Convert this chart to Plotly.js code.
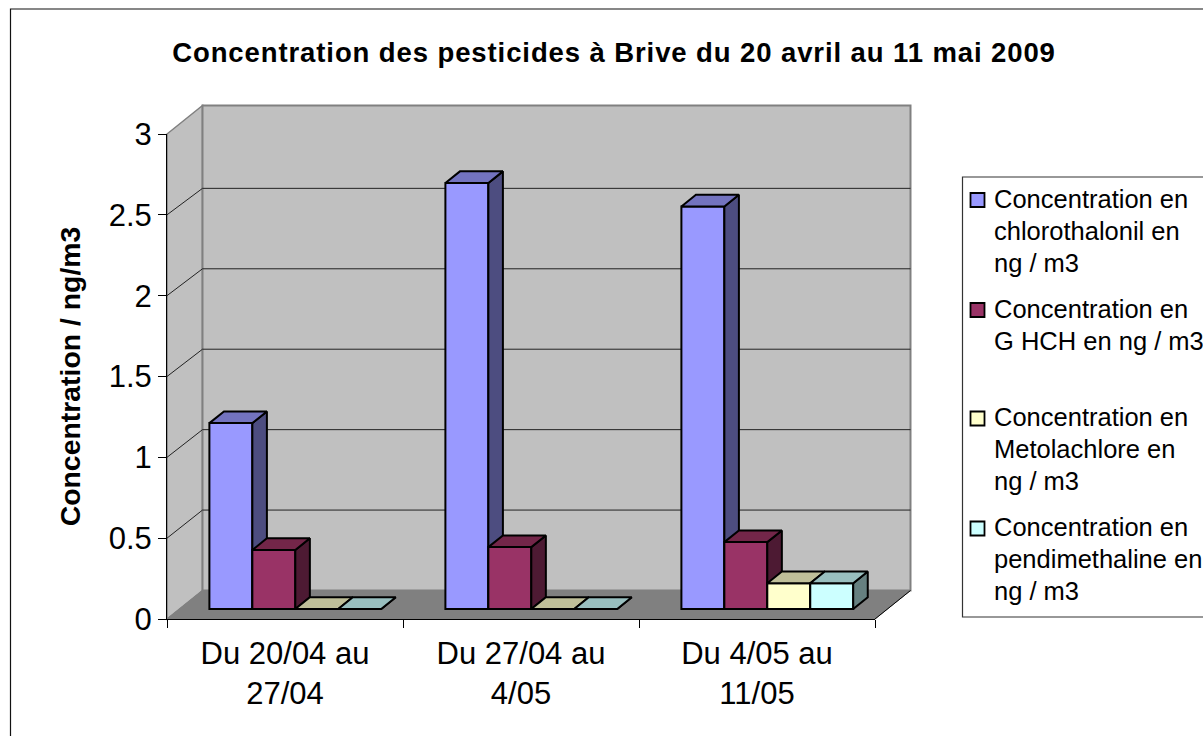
<!DOCTYPE html>
<html>
<head>
<meta charset="utf-8">
<script src="https://cdn.plot.ly/plotly-3.0.1.min.js"></script>
<style>
html,body{margin:0;padding:0;background:#fff;overflow:hidden}
.gtitle{letter-spacing:0.9px}
</style>
</head>
<body>
<div id="chart" style="width:1203px;height:736px"></div>
<script>
// ---- data ----
const categories = ["Du 20/04 au<br>27/04", "Du 27/04 au<br>4/05", "Du 4/05 au<br>11/05"];
const chlorothalonil = [1.15, 2.635, 2.49];
const gHCH = [0.365, 0.383, 0.414];
const metolachlore = [0, 0, 0.16];
const pendimethaline = [0, 0, 0.16];
const yTicks = [0, 0.5, 1, 1.5, 2, 2.5, 3];
const legendLines = [
  ["Concentration en", "chlorothalonil en", "ng / m3"],
  ["Concentration en", "G HCH en ng / m3"],
  ["Concentration en", "Metolachlore en", "ng / m3"],
  ["Concentration en", "pendimethaline en", "ng / m3"]
];
const seriesNames = ["Concentration en chlorothalonil en ng / m3", "Concentration en G HCH en ng / m3",
  "Concentration en Metolachlore en ng / m3", "Concentration en pendimethaline en ng / m3"];
const frontColors = ["#9999ff", "#993366", "#ffffcc", "#ccffff"];
const sideColors = ["#4d4d80", "#4d1a33", "#808066", "#668080"];
const topColors = ["#7373bf", "#732649", "#bfbf99", "#99bfbf"];

// ---- layout constants (pixels of the page) ----
const L = 167, R = 875, T = 134, B = 619, W = 1203, H = 736;
const px = x => (x - L) / (R - L);
const py = y => (B - y) / (B - T);
const wallDX = 35.5, wallDY = 28.5;               // oblique depth of the box
const depthX = wallDX / ((R - L) / 3), depthY = wallDY / ((B - T) / 3); // same in data units
const z0 = 0.35, z1 = 0.76;                       // bar depth inside the box
const barW = 0.182, groupOffset = 0.127;
const wallScale = 0.995;                          // back-wall gridlines sit slightly tighter

const series = [chlorothalonil, gHCH, metolachlore, pendimethaline];
const traces = [];
series.forEach((vals, s) => {
  const ax = s === 0 ? "" : String(s + 1);
  const xa = "x" + ax, ya = "y" + ax;
  const lefts = vals.map((v, c) => c + groupOffset + s * barW + z0 * depthX);
  const baseY = z0 * depthY;
  traces.push({
    type: "bar", name: seriesNames[s], xaxis: xa, yaxis: ya, hoverinfo: "skip",
    x: lefts.map(l => l + barW / 2), y: vals, base: vals.map(() => baseY), width: barW,
    marker: {color: frontColors[s], line: {color: "#000", width: 2}}
  });
  const dzx = (z1 - z0) * depthX, dzy = (z1 - z0) * depthY;
  const sx = [], sy = [], tx = [], ty = [];
  vals.forEach((v, c) => {
    const l = lefts[c], r = l + barW, top = baseY + v;
    sx.push(r, r + dzx, r + dzx, r, r, null);
    sy.push(baseY, baseY + dzy, top + dzy, top, baseY, null);
    tx.push(l, l + dzx, r + dzx, r, l, null);
    ty.push(top, top + dzy, top + dzy, top, top, null);
  });
  const poly = (x, y, c) => ({
    type: "scatter", mode: "lines", x, y, xaxis: xa, yaxis: ya, fill: "toself", fillcolor: c,
    line: {color: "#000", width: 2}, hoverinfo: "skip", showlegend: false
  });
  traces.push(poly(sx, sy, sideColors[s]));
  traces.push(poly(tx, ty, topColors[s]));
});

// ---- box walls, floor and gridlines ----
const wx = px(L + wallDX) , wy = wallDY / (B - T);
const shapes = [];
const path = (pts, fill, lineCol, lw) => ({
  type: "path", xref: "paper", yref: "paper", layer: "below",
  path: "M" + pts.map(p => p[0] + "," + p[1]).join("L") + "Z",
  fillcolor: fill, line: {color: lineCol, width: lw}
});
shapes.push(path([[0, 0], [wx, wy], [wx, 1 + wy], [0, 1]], "#c0c0c0", "#808080", 1.5));
shapes.push(path([[wx, wy], [1 + wx, wy], [1 + wx, 1 + wy], [wx, 1 + wy]], "#c0c0c0", "#808080", 2));
shapes.push(path([[0, 0], [1, 0], [1 + wx, wy], [wx, wy]], "#808080", "#808080", 1));
yTicks.slice(1, -1).forEach(v => {
  const f = v / 3, b = f * wallScale + wy;
  shapes.push({type: "path", xref: "paper", yref: "paper", layer: "below",
    path: `M0,${f}L${wx},${b}L${1 + wx},${b}`, line: {color: "#222", width: 1}});
});
// front-right floor edge
shapes.push({type: "line", xref: "paper", yref: "paper", layer: "below",
  x0: 1, y0: 0, x1: 1 + wx, y1: wy, line: {color: "#000", width: 1}});
// outer chart frame (runs off the page on the right and bottom)
shapes.push({type: "rect", xref: "paper", yref: "paper", layer: "below",
  x0: px(10.5), x1: px(1400), y0: py(9), y1: py(900), line: {color: "#111", width: 1.2}});
// legend frame
shapes.push({type: "rect", xref: "paper", yref: "paper", layer: "below",
  x0: px(962.5), x1: px(1400), y0: py(177), y1: py(617), line: {color: "#333", width: 1.2}, fillcolor: "#fff"});

// ---- legend drawn to keep the swatch on the first line of each wrapped entry ----
const FONT = "Liberation Sans, Arial, sans-serif";
const itemTops = [198.5, 308.5, 417, 527];
const annotations = [];
legendLines.forEach((lines, s) => {
  const yc = itemTops[s];
  shapes.push({type: "rect", xref: "paper", yref: "paper",
    x0: px(970.5), x1: px(984.5), y0: py(yc - 5.5), y1: py(yc + 8.5),
    fillcolor: frontColors[s], line: {color: "#000", width: 1.8}});
  lines.forEach((t, i) => annotations.push({
    xref: "paper", yref: "paper", x: px(993), y: py(yc + i * 32),
    xanchor: "left", yanchor: "middle", showarrow: false, align: "left", text: t,
    font: {family: FONT, size: 25.5, color: "#000"}, borderpad: 0
  }));
});

const xRange = [0, 3], yRange = [0, 3];
const hidden = over => ({overlaying: over, range: over === "x" ? xRange : yRange, visible: false, fixedrange: true});
const layout = {
  width: W, height: H, paper_bgcolor: "#fff", plot_bgcolor: "rgba(0,0,0,0)",
  margin: {l: L, r: W - R, t: T, b: H - B, pad: 0},
  showlegend: false, barmode: "overlay", hovermode: false,
  font: {family: FONT, color: "#000"},
  title: {text: "Concentration des pesticides à Brive du 20 avril au 11 mai 2009",
    x: 614 / W, xref: "container", xanchor: "center", y: 1 - 52 / H, yref: "container", yanchor: "middle",
    font: {family: FONT, size: 27.5, color: "#000", weight: 700}},
  xaxis: {range: xRange, tickmode: "array", tickvals: [0, 1, 2, 3], ticktext: ["", "", "", ""],
    ticks: "outside", ticklen: 8, tickcolor: "#000", tickwidth: 1, showline: true, linecolor: "#000", linewidth: 1,
    showgrid: false, zeroline: false, fixedrange: true},
  yaxis: {range: yRange, tickmode: "array", tickvals: yTicks, ticktext: yTicks.map(String),
    ticks: "outside", ticklen: 8, tickcolor: "#000", tickwidth: 1, showline: true, linecolor: "#000", linewidth: 1,
    showgrid: false, zeroline: false, fixedrange: true, tickfont: {size: 31, family: FONT},
    title: {text: "Concentration / ng/m3", standoff: 19, font: {family: FONT, size: 28.4, weight: 700, color: "#000"}}},
  xaxis2: {overlaying: "x", anchor: "y2", range: xRange, tickmode: "array", tickvals: [0.5, 1.5, 2.5], ticktext: categories,
    ticks: "", showline: false, showgrid: false, zeroline: false, fixedrange: true, ticklabelstandoff: 13,
    tickfont: {size: 31, family: FONT}},
  yaxis2: Object.assign(hidden("y"), {anchor: "x2"}),
  xaxis3: Object.assign(hidden("x"), {anchor: "y3"}),
  yaxis3: Object.assign(hidden("y"), {anchor: "x3"}),
  xaxis4: Object.assign(hidden("x"), {anchor: "y4"}),
  yaxis4: Object.assign(hidden("y"), {anchor: "x4"}),
  shapes, annotations
};
Plotly.newPlot("chart", traces, layout, {displayModeBar: false, staticPlot: true});
</script>
</body>
</html>
